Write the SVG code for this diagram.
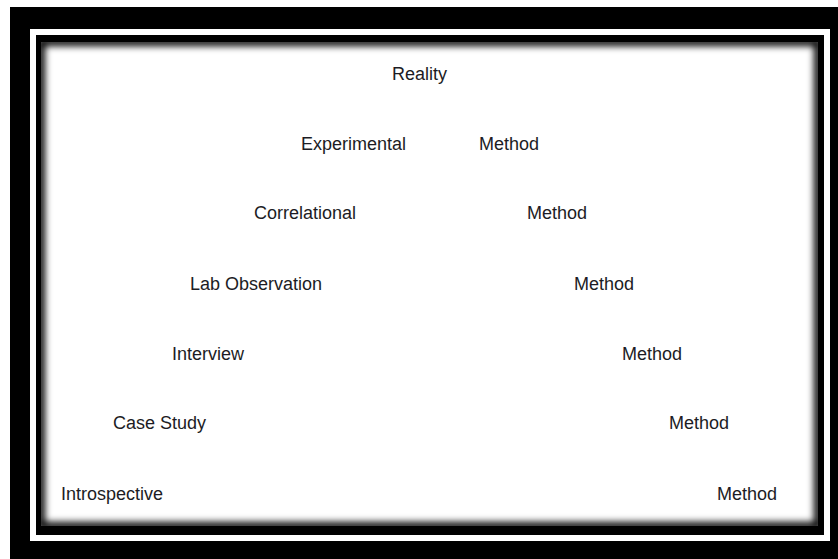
<svg xmlns="http://www.w3.org/2000/svg" width="838" height="559" viewBox="0 0 838 559">
  <style>
    .lbl { font-family: "Liberation Sans", Arial, sans-serif; font-size: 18px; fill: #1c1c24; }
  </style>
  <defs>
    <clipPath id="innerClip">
      <rect x="41" y="42" width="777" height="484"/>
    </clipPath>
    <filter id="blur" x="-5%" y="-5%" width="110%" height="110%">
      <feGaussianBlur stdDeviation="3.5"/>
    </filter>
  </defs>
  <g id="frame">
    <rect x="10" y="7" width="828" height="552" fill="#000"/>
    <rect x="30" y="29" width="800" height="512" fill="#fff"/>
    <rect x="36" y="35" width="788" height="500" fill="#000"/>
    <rect x="41" y="42" width="777" height="484" fill="#fff"/>
    <g clip-path="url(#innerClip)">
      <rect x="41" y="42" width="777" height="484" fill="none" stroke="#000" stroke-width="8" filter="url(#blur)"/>
    </g>
  </g>
  <g id="nodes">
    <g id="reality"><text class="lbl" x="392" y="80">Reality</text></g>
    <g id="experimental"><text class="lbl" x="301" y="150">Experimental</text></g>
    <g id="experimental-method"><text class="lbl" x="479" y="150">Method</text></g>
    <g id="correlational"><text class="lbl" x="254" y="219">Correlational</text></g>
    <g id="correlational-method"><text class="lbl" x="527" y="219">Method</text></g>
    <g id="lab-observation"><text class="lbl" x="190" y="290">Lab Observation</text></g>
    <g id="lab-observation-method"><text class="lbl" x="574" y="290">Method</text></g>
    <g id="interview"><text class="lbl" x="172" y="360">Interview</text></g>
    <g id="interview-method"><text class="lbl" x="622" y="360">Method</text></g>
    <g id="case-study"><text class="lbl" x="113" y="429">Case Study</text></g>
    <g id="case-study-method"><text class="lbl" x="669" y="429">Method</text></g>
    <g id="introspective"><text class="lbl" x="61" y="500">Introspective</text></g>
    <g id="introspective-method"><text class="lbl" x="717" y="500">Method</text></g>
  </g>
  <g id="connectors"></g>
</svg>
